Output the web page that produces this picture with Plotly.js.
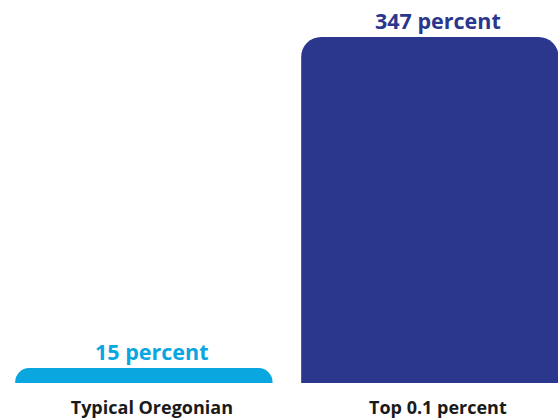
<!DOCTYPE html>
<html>
<head>
<meta charset="utf-8">
<script src="https://cdn.plot.ly/plotly-3.0.1.min.js"></script>
<style>
  html, body { margin: 0; padding: 0; background: #ffffff; }
  #chart { width: 558px; height: 419px; }
</style>
</head>
<body>
<div id="chart"></div>
<script>
// Income growth by group
const categories = ['Typical Oregonian', 'Top 0.1 percent'];
const growthPercent = [15, 347];
const barColors = ['#09a6e0', '#2b378d'];

const labelFont = { family: 'Open Sans, sans-serif', size: 21.5, weight: 700 };

const trace = {
  type: 'bar',
  x: categories,
  y: growthPercent,
  width: 0.9,
  marker: { color: barColors, line: { width: 0 } },
  hoverinfo: 'skip'
};

// value labels sit just above each bar
const valueLabels = categories.map((cat, i) => ({
  x: cat,
  y: growthPercent[i],
  xref: 'x',
  yref: 'y',
  text: growthPercent[i] + ' percent',
  showarrow: false,
  xanchor: 'center',
  yanchor: 'bottom',
  xshift: 8,
  yshift: 0,
  font: Object.assign({ color: barColors[i] }, labelFont)
}));

const layout = {
  width: 558,
  height: 419,
  margin: { l: 0, r: 0, t: 0, b: 36, pad: 0 },
  paper_bgcolor: '#ffffff',
  plot_bgcolor: '#ffffff',
  barcornerradius: 20,
  showlegend: false,
  annotations: valueLabels,
  xaxis: {
    type: 'category',
    range: [-0.503, 1.448],
    showgrid: false,
    zeroline: false,
    showline: false,
    ticks: '',
    ticklabelstandoff: 12,
    ticklabelshift: 8,
    tickfont: { family: 'Open Sans, sans-serif', size: 18, weight: 700, color: '#1a1a1a' }
  },
  yaxis: {
    range: [0, 384],
    visible: false,
    showgrid: false,
    zeroline: false
  }
};

Plotly.newPlot('chart', [trace], layout, { staticPlot: true, displayModeBar: false });
</script>
</body>
</html>
